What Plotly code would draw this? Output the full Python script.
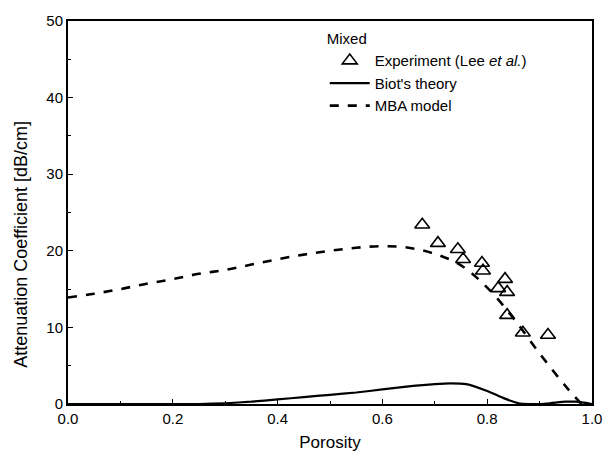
import plotly.graph_objects as go

# Experiment (Lee et al.)
exp_porosity = [0.676, 0.706, 0.744, 0.754, 0.790, 0.792, 0.821, 0.834, 0.838, 0.838, 0.868, 0.916]
exp_atten = [23.4, 21.0, 20.2, 18.9, 18.4, 17.4, 15.1, 16.3, 14.6, 11.6, 9.3, 9.0]

# Biot's theory
biot_porosity = [0.0, 0.1, 0.2, 0.25, 0.3, 0.35, 0.4, 0.45, 0.5, 0.55, 0.6, 0.65, 0.7, 0.73, 0.76, 0.8, 0.83, 0.86, 0.88, 0.9, 0.92, 0.95, 0.97, 1.0]
biot_atten = [0.0, 0.0, 0.0, 0.0, 0.1, 0.3, 0.6, 0.9, 1.2, 1.5, 1.9, 2.3, 2.6, 2.7, 2.6, 1.7, 0.8, 0.1, 0.0, 0.0, 0.1, 0.3, 0.3, 0.0]

# MBA model
mba_porosity = [0.0, 0.05, 0.1, 0.15, 0.2, 0.25, 0.3, 0.35, 0.4, 0.45, 0.5, 0.55, 0.6, 0.65, 0.7, 0.75, 0.8, 0.85, 0.9, 0.95, 0.98]
mba_atten = [13.9, 14.4, 15.0, 15.7, 16.3, 17.0, 17.5, 18.2, 18.9, 19.5, 20.0, 20.4, 20.6, 20.4, 19.6, 18.1, 15.2, 11.2, 6.6, 2.3, 0.0]

x_ticks = [0.0, 0.2, 0.4, 0.6, 0.8, 1.0]
x_tick_labels = ["0.0", "0.2", "0.4", "0.6", "0.8", "1.0"]
y_ticks = [0, 10, 20, 30, 40, 50]

FONT = "Liberation Sans, Arial, sans-serif"

fig = go.Figure()
fig.add_trace(go.Scatter(
    x=exp_porosity, y=exp_atten, mode="markers",
    name="Experiment (Lee <i>et al.</i>)",
    marker=dict(symbol="triangle-up-open", size=13, color="black", line=dict(width=1.6, color="black")),
))
fig.add_trace(go.Scatter(
    x=biot_porosity, y=biot_atten, mode="lines", name="Biot's theory",
    line=dict(color="black", width=2.2, shape="spline", smoothing=0.6),
))
fig.add_trace(go.Scatter(
    x=mba_porosity, y=mba_atten, mode="lines", name="MBA model",
    line=dict(color="black", width=2.6, dash="dash", shape="spline"),
))

axis_common = dict(
    showline=True, linecolor="black", linewidth=2, mirror=True,
    ticks="inside", ticklen=5, tickwidth=1.2, tickcolor="black",
    showgrid=False, zeroline=False, automargin=False,
    tickfont=dict(family=FONT, size=15, color="black"),
    minor=dict(ticks="inside", ticklen=3, tickwidth=1, tickcolor="black"),
)

fig.update_layout(
    width=612, height=459,
    margin=dict(l=68, r=20, t=21, b=55),
    paper_bgcolor="white", plot_bgcolor="white",
    font=dict(family=FONT, color="black"),
    showlegend=True,
    legend=dict(
        x=0.49, y=0.99, xanchor="left", yanchor="top",
        title=dict(text="Mixed", font=dict(family=FONT, size=15, color="black")),
        font=dict(family=FONT, size=15, color="black"),
        bgcolor="rgba(0,0,0,0)", tracegroupgap=0, itemwidth=40,
    ),
    xaxis=dict(
        range=[0, 1.0], tickvals=x_ticks, ticktext=x_tick_labels,
        title=dict(text="Porosity", font=dict(family=FONT, size=17, color="black"), standoff=10),
        **axis_common,
    ),
    yaxis=dict(
        range=[0, 50], tickvals=y_ticks,
        **axis_common,
    ),
    annotations=[dict(
        text="Attenuation Coefficient [dB/cm]", textangle=-90,
        xref="paper", yref="paper", x=-0.09, y=0.418,
        xanchor="center", yanchor="middle", showarrow=False,
        font=dict(family=FONT, size=18, color="black"),
    )],
)
fig.update_xaxes(minor=dict(tickvals=[0.1, 0.3, 0.5, 0.7, 0.9]))
fig.update_yaxes(minor=dict(tickvals=[5, 15, 25, 35, 45]))

fig.write_html("out.html", config={"displayModeBar": False},
               post_script="document.body.style.margin='0';document.body.style.padding='0';")
